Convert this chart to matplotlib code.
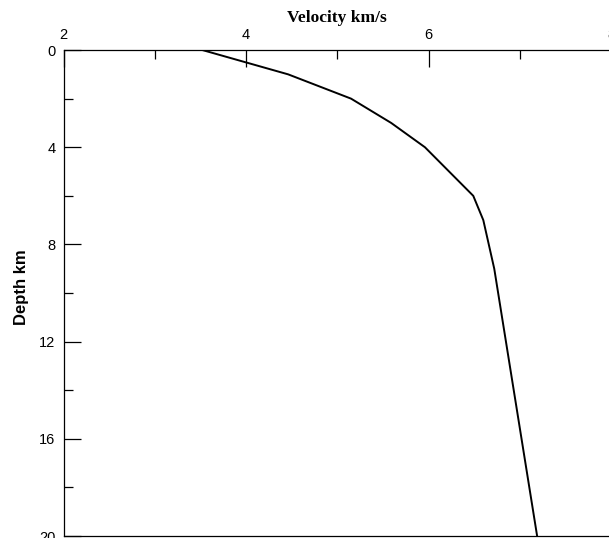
import matplotlib
matplotlib.use("Agg")
import matplotlib.pyplot as plt
from matplotlib.ticker import MultipleLocator

# P-wave velocity model (km/s) against depth (km)
depth_km = [0, 1, 2, 3, 4, 6, 7, 9, 20]
velocity_kms = [3.52, 4.46, 5.15, 5.59, 5.96, 6.49, 6.60, 6.72, 7.19]

x_major = [2, 4, 6, 8]
y_major = [0, 4, 8, 12, 16, 20]

fig = plt.figure(figsize=(6.09, 5.38), dpi=100)
ax = fig.add_axes([0.1046, 0.0037, 0.8987, 0.9033])

ax.plot(velocity_kms, depth_km, color="black", lw=1.4, solid_joinstyle="miter")

ax.set_xlim(2, 8)
ax.set_ylim(20, 0)
ax.xaxis.tick_top()
ax.xaxis.set_label_position("top")
ax.set_xticks(x_major)
ax.set_yticks(y_major)
ax.xaxis.set_minor_locator(MultipleLocator(1))
ax.yaxis.set_minor_locator(MultipleLocator(2))

ax.tick_params(axis="both", which="major", direction="in", length=12.5,
               width=0.9, labelsize=10.5, pad=6, colors="black")
ax.tick_params(axis="both", which="minor", direction="in", length=6.3,
               width=0.9)
ax.tick_params(axis="x", which="both", top=True, bottom=False)
ax.tick_params(axis="y", which="both", left=True, right=False)

for lbl in ax.get_xticklabels() + ax.get_yticklabels():
    lbl.set_family("Liberation Sans")

for s in ax.spines.values():
    s.set_linewidth(0.9)
    s.set_color("black")

ax.set_xlabel("Velocity km/s", family="Liberation Serif", fontweight="bold",
              fontsize=12.5, labelpad=4)
ax.set_ylabel("Depth km", family="Liberation Sans", fontweight="bold",
              fontsize=12)
ax.yaxis.set_label_coords(-0.063, 0.512)

fig.savefig("out.png", dpi=100)
